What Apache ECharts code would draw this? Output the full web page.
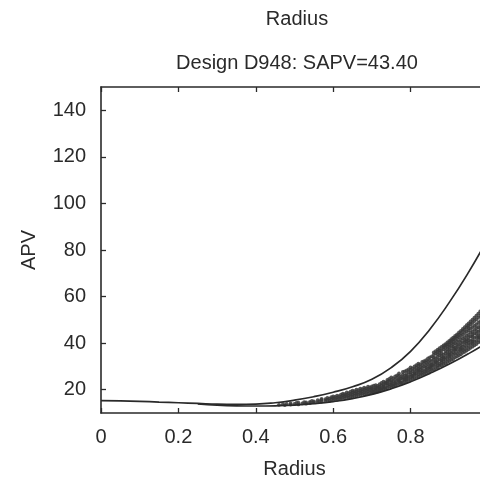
<!DOCTYPE html>
<html>
<head>
<meta charset="utf-8">
<title>Radius</title>
<script src="https://cdn.jsdelivr.net/npm/echarts@6/dist/echarts.min.js"></script>
<style>
  html, body { margin: 0; padding: 0; background: #fff; }
  #chart { width: 480px; height: 483px; }
</style>
</head>
<body>
<div id="chart"></div>
<script>
// Envelope of APV versus radius, with sampled designs in between.
var chartTitle = 'Radius';
var chartSubtitle = 'Design D948: SAPV=43.40';
var xName = 'Radius';
var yName = 'APV';

var xTicks = [0, 0.2, 0.4, 0.6, 0.8, 1];
var yTicks = [20, 40, 60, 80, 100, 120, 140];

// Upper bound curve
var upperX = [0, 0.05, 0.1, 0.15, 0.2, 0.25, 0.3, 0.35, 0.4, 0.45, 0.5, 0.55, 0.6, 0.65, 0.7, 0.75, 0.8, 0.85, 0.9, 0.95, 1.0];
var upperY = [15.3, 15.2, 15.0, 14.7, 14.4, 14.1, 13.8, 13.7, 13.8, 14.4, 15.5, 17.0, 18.9, 21.3, 24.5, 29.5, 36.5, 46.0, 57.5, 70.5, 85.0];

// Lower bound curve
var lowerX = [0.25, 0.3, 0.35, 0.4, 0.45, 0.5, 0.55, 0.6, 0.65, 0.7, 0.75, 0.8, 0.85, 0.9, 0.95, 1.0];
var lowerY = [13.9, 13.4, 13.1, 13.0, 13.1, 13.4, 14.0, 14.9, 16.2, 18.0, 20.4, 23.4, 27.0, 31.0, 35.5, 40.5];

// Sampled designs: each radius with the APV values found there
var sampleX = [
  0.46, 0.47, 0.475, 0.48, 0.49, 0.50, 0.505, 0.51, 0.52, 0.525, 0.53, 0.54, 0.545, 0.55, 0.56, 0.565,
  0.57, 0.58, 0.585, 0.59, 0.595, 0.60, 0.605, 0.61, 0.615, 0.62, 0.625, 0.63, 0.635, 0.64, 0.645,
  0.65, 0.655, 0.66, 0.665, 0.67, 0.675, 0.68, 0.685, 0.69, 0.695,
  0.70, 0.705, 0.71, 0.715, 0.72, 0.725, 0.73, 0.735, 0.74, 0.745, 0.75, 0.755, 0.76, 0.765,
  0.77, 0.775, 0.78, 0.785, 0.79, 0.795, 0.80, 0.805, 0.81, 0.815, 0.82, 0.825, 0.83, 0.835,
  0.84, 0.845, 0.85, 0.855, 0.86, 0.865, 0.87, 0.875, 0.88, 0.885, 0.89, 0.895, 0.90, 0.905,
  0.91, 0.915, 0.92, 0.925, 0.93, 0.935, 0.94, 0.945, 0.95, 0.955, 0.96, 0.965, 0.97, 0.975,
  0.98, 0.985
];
var sampleY = [
  [13.5], [13.8], [13.4], [13.9], [13.6, 14.1], [13.9], [14.3], [13.7, 14.4], [14.1], [14.7],
  [14.0, 14.5], [14.8, 14.3], [15.2], [14.6, 15.0], [14.7, 15.5], [15.1],
  [15.6, 14.9, 16.1], [15.3, 16.0], [15.7, 16.5], [15.2, 16.2], [15.9, 16.8],
  [15.5, 16.4, 17.1], [16.0, 16.9], [15.7, 16.6, 17.5], [16.3, 17.2], [16.0, 16.9, 17.9],
  [16.6, 17.6, 18.3], [16.4, 17.3, 18.1], [16.9, 17.8, 18.8], [16.7, 17.5, 18.5], [17.2, 18.2, 19.2],
  [17.0, 17.9, 18.8, 19.6], [17.5, 18.5, 19.4], [17.4, 18.3, 19.1, 20.0], [17.8, 18.9, 19.8],
  [17.7, 18.6, 19.5, 20.5], [18.2, 19.3, 20.2], [18.0, 19.0, 20.0, 20.9], [18.5, 19.6, 20.6],
  [18.3, 19.4, 20.3, 21.3], [18.8, 19.9, 21.0],
  [18.5, 19.3, 20.6, 21.4, 19.9], [19.1, 20.2, 21.7, 18.8], [18.9, 20.4, 21.0, 22.0, 19.6],
  [19.8, 20.9, 21.6, 19.2], [20.0, 21.3, 22.4, 19.4, 20.7], [19.9, 21.8, 22.9, 20.5],
  [20.3, 21.5, 22.2, 23.5, 20.9], [21.1, 22.7, 20.4, 23.1], [20.8, 21.9, 23.4, 24.2, 22.6],
  [21.3, 22.3, 23.8, 24.6], [21.1, 22.5, 23.2, 24.0, 25.3, 21.9], [22.1, 23.6, 24.9, 21.6],
  [21.8, 23.0, 24.3, 25.7, 22.6], [22.4, 23.8, 25.1, 26.2],
  [22.6, 23.5, 24.6, 26.0, 27.0, 24.1], [23.1, 24.8, 25.6, 22.9], [23.0, 24.4, 25.3, 26.5, 27.6],
  [23.6, 25.0, 26.2, 27.9, 24.3], [23.7, 24.6, 25.9, 26.8, 28.3, 25.3], [24.2, 25.6, 27.4, 28.7],
  [24.4, 25.5, 26.6, 27.3, 28.5, 29.6], [24.9, 26.1, 27.9, 29.2, 25.7],
  [25.0, 26.4, 27.2, 28.6, 30.0, 26.9], [25.5, 27.0, 28.2, 29.5, 30.6],
  [25.6, 26.6, 27.8, 29.0, 30.3, 31.2, 28.4], [26.3, 27.5, 29.7, 30.9, 28.6],
  [26.4, 27.3, 28.3, 29.4, 30.6, 31.9], [26.9, 28.1, 29.9, 31.4, 32.3],
  [27.1, 28.6, 29.5, 30.4, 31.7, 32.7, 28.0], [27.6, 29.2, 30.8, 32.1, 33.4],
  [27.9, 28.8, 30.0, 31.3, 32.6, 33.9, 29.6], [28.5, 29.8, 31.0, 32.4, 34.3, 30.5],
  [28.7, 30.2, 31.5, 33.0, 33.8, 35.0, 36.0], [29.3, 30.7, 32.2, 33.6, 35.5, 31.8, 36.6],
  [29.5, 30.4, 31.6, 32.8, 34.1, 35.2, 36.3, 37.2], [30.3, 31.2, 32.9, 34.6, 35.9, 37.8, 36.9],
  [30.5, 31.7, 33.3, 34.4, 35.6, 36.9, 32.5, 38.4], [31.0, 32.2, 33.9, 35.2, 37.4, 33.4, 39.0, 38.3],
  [31.3, 32.8, 34.0, 35.5, 36.6, 38.0, 39.6, 39.0], [31.9, 33.3, 34.8, 36.2, 37.4, 38.6, 40.3, 39.5],
  [32.3, 33.6, 35.1, 36.0, 37.3, 38.4, 39.4, 34.5, 41.0, 40.3], [32.8, 34.2, 35.7, 37.0, 38.7, 40.0, 41.7, 41.0],
  [33.2, 34.9, 36.1, 37.6, 38.5, 39.6, 40.6, 42.4, 41.6], [33.9, 35.4, 36.8, 38.2, 39.9, 41.3, 37.3, 43.1, 42.4],
  [34.3, 35.6, 37.1, 38.4, 39.3, 40.6, 42.0, 43.8, 43.0], [34.8, 36.3, 37.9, 39.4, 40.9, 42.5, 44.6, 43.7],
  [35.2, 36.6, 38.0, 39.0, 40.2, 41.5, 43.1, 37.4, 45.3, 44.3], [35.9, 37.3, 38.7, 40.3, 42.0, 43.7, 46.1, 45.2],
  [36.3, 37.6, 39.1, 40.5, 41.3, 42.6, 44.4, 46.9, 45.8], [36.8, 38.3, 39.9, 41.7, 43.2, 45.0, 40.8, 47.7, 46.6],
  [37.4, 38.8, 40.1, 41.2, 42.4, 43.7, 45.4, 46.5, 48.5, 47.5], [38.0, 39.6, 41.0, 42.8, 44.5, 46.2, 49.3, 48.0],
  [38.5, 39.9, 41.5, 42.9, 43.6, 45.0, 46.9, 40.6, 50.1, 48.7], [39.1, 40.6, 42.3, 44.1, 45.7, 47.4, 51.0, 49.5],
  [39.6, 41.0, 42.6, 44.0, 45.2, 46.5, 48.1, 51.8, 50.2], [40.3, 41.8, 43.4, 45.0, 46.8, 48.8, 42.6, 52.7, 51.0],
  [40.8, 42.4, 43.9, 45.3, 46.4, 47.7, 49.5, 53.6, 51.8], [41.5, 43.0, 44.6, 46.5, 48.3, 50.2, 54.5, 52.6]
];

function pairs(xs, ys) {
  return xs.map(function (x, i) { return [x, ys[i]]; });
}
var samplePoints = [];
sampleX.forEach(function (x, i) {
  sampleY[i].forEach(function (y) { samplePoints.push([x, y]); });
});

var ink = '#2a2a2a';
var font = '"Liberation Sans", Arial, sans-serif';

var chart = echarts.init(document.getElementById('chart'), null, { renderer: 'canvas' });

var axisCommon = {
  type: 'value',
  axisLine: { show: true, lineStyle: { color: ink, width: 1.6 } },
  splitLine: { show: false }
};
var tickStyle = { color: ink, width: 1.3 };

chart.setOption({
  animation: false,
  backgroundColor: '#fff',
  grid: { left: 101, top: 87, width: 387, height: 326, containLabel: false, outerBoundsMode: 'none' },
  graphic: [
    { type: 'text', x: 297, y: 19, style: { text: chartTitle, font: '20px ' + font, fill: ink, textAlign: 'center', textVerticalAlign: 'middle' } },
    { type: 'text', x: 297, y: 63, style: { text: chartSubtitle, font: '20px ' + font, fill: ink, textAlign: 'center', textVerticalAlign: 'middle' } }
  ],
  xAxis: [
    Object.assign({}, axisCommon, {
      position: 'bottom', min: 0, max: 1,
      name: xName, nameLocation: 'middle', nameGap: 46,
      nameTextStyle: { fontFamily: font, fontSize: 20, color: ink },
      axisTick: { show: true, inside: true, length: 5, customValues: xTicks, lineStyle: tickStyle },
      axisLabel: { show: true, customValues: xTicks, margin: 14, fontFamily: font, fontSize: 20, color: ink,
        hideOverlap: false, formatter: function (v) { return String(v); } }
    }),
    Object.assign({}, axisCommon, {
      position: 'top', min: 0, max: 1,
      axisTick: { show: true, inside: true, length: 5, customValues: xTicks, lineStyle: tickStyle },
      axisLabel: { show: false }
    })
  ],
  yAxis: [
    Object.assign({}, axisCommon, {
      position: 'left', min: 10, max: 150,
      name: yName, nameLocation: 'middle', nameGap: 62, nameRotate: 90,
      nameTextStyle: { fontFamily: font, fontSize: 20, color: ink },
      axisTick: { show: true, inside: true, length: 5, customValues: yTicks, lineStyle: tickStyle },
      axisLabel: { show: true, customValues: yTicks, margin: 15, fontFamily: font, fontSize: 20, color: ink }
    })
  ],
  series: [
    {
      type: 'scatter', name: 'designs', xAxisIndex: 0, yAxisIndex: 0,
      data: samplePoints, symbol: 'circle', symbolSize: 3.8,
      itemStyle: { color: '#3a3a3a', opacity: 0.85 }, silent: true
    },
    {
      type: 'line', name: 'upper', xAxisIndex: 0, yAxisIndex: 0,
      data: pairs(upperX, upperY), smooth: 0.5, showSymbol: false,
      lineStyle: { color: ink, width: 1.7 }, silent: true
    },
    {
      type: 'line', name: 'lower', xAxisIndex: 0, yAxisIndex: 0,
      data: pairs(lowerX, lowerY), smooth: 0.5, showSymbol: false,
      lineStyle: { color: ink, width: 1.7 }, silent: true
    }
  ]
});
</script>
</body>
</html>
